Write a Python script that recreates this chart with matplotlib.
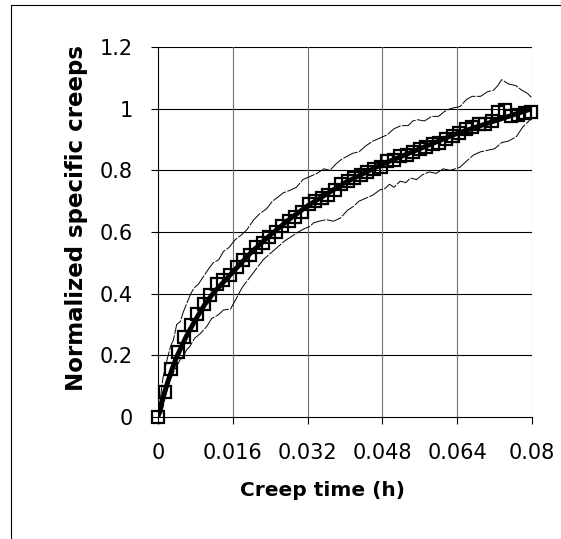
import matplotlib
matplotlib.use("Agg")
import matplotlib.pyplot as plt
from matplotlib.patches import Rectangle

# measured points (normalized specific creep)
creep_time = [0.0, 0.0014, 0.0028, 0.0042, 0.0056, 0.0070, 0.0084, 0.0098, 0.0112, 0.0126,
              0.0140, 0.0154, 0.0168, 0.0182, 0.0196, 0.0210, 0.0224, 0.0238, 0.0252, 0.0266,
              0.0280, 0.0294, 0.0308, 0.0322, 0.0336, 0.0350, 0.0364, 0.0378, 0.0392, 0.0406,
              0.0420, 0.0434, 0.0448, 0.0462, 0.0476, 0.0490, 0.0504, 0.0518, 0.0532, 0.0546,
              0.0560, 0.0574, 0.0588, 0.0602, 0.0616, 0.0630, 0.0644, 0.0658, 0.0672, 0.0686,
              0.0700, 0.0714, 0.0728, 0.0742, 0.0756, 0.0770, 0.0784, 0.0798]
creep = [0.0, 0.08, 0.155, 0.21, 0.26, 0.30, 0.335, 0.365, 0.395, 0.43,
         0.445, 0.46, 0.485, 0.51, 0.525, 0.55, 0.565, 0.585, 0.60, 0.62,
         0.635, 0.65, 0.665, 0.69, 0.70, 0.71, 0.72, 0.735, 0.755, 0.765,
         0.775, 0.785, 0.795, 0.805, 0.81, 0.83, 0.835, 0.845, 0.85, 0.86,
         0.87, 0.875, 0.885, 0.89, 0.90, 0.91, 0.92, 0.935, 0.94, 0.95,
         0.95, 0.96, 0.99, 0.995, 0.975, 0.98, 0.985, 0.99]

# fitted curve
fit_time = [0.0, 0.001, 0.002, 0.003, 0.004, 0.006, 0.008, 0.010, 0.012, 0.016,
            0.020, 0.024, 0.028, 0.032, 0.040, 0.048, 0.056, 0.064, 0.072, 0.080]
fit_creep = [0.0, 0.06, 0.11, 0.155, 0.195, 0.26, 0.315, 0.365, 0.405, 0.47,
             0.535, 0.59, 0.64, 0.685, 0.76, 0.82, 0.87, 0.92, 0.96, 1.0]

# upper / lower bounds
upper_time = [0.0, 0.0006, 0.0011, 0.0020, 0.0027, 0.0033, 0.0040, 0.0048, 0.0054, 0.0062,
              0.0070, 0.0078, 0.0086, 0.0097, 0.0108, 0.0118, 0.0130, 0.0140, 0.0152, 0.0165,
              0.0178, 0.0190, 0.0205, 0.0218, 0.0232, 0.0245, 0.0258, 0.0268, 0.0282, 0.0296,
              0.0310, 0.0325, 0.0340, 0.0355, 0.0368, 0.0380, 0.0392, 0.0404, 0.0416, 0.0430,
              0.0445, 0.0460, 0.0475, 0.0490, 0.0505, 0.0520, 0.0535, 0.0545, 0.0556, 0.0570,
              0.0585, 0.0600, 0.0612, 0.0625, 0.0646, 0.0660, 0.0672, 0.0690, 0.0705, 0.0718,
              0.0727, 0.0735, 0.0750, 0.0765, 0.0778, 0.0790, 0.0800, 0.0810]
upper = [0.0, 0.07, 0.13, 0.19, 0.23, 0.25, 0.30, 0.31, 0.34, 0.37,
         0.40, 0.42, 0.43, 0.455, 0.48, 0.50, 0.51, 0.537, 0.55, 0.575,
         0.59, 0.607, 0.64, 0.66, 0.675, 0.70, 0.715, 0.727, 0.735, 0.745,
         0.77, 0.78, 0.79, 0.805, 0.80, 0.82, 0.835, 0.845, 0.855, 0.86,
         0.88, 0.895, 0.905, 0.915, 0.935, 0.945, 0.945, 0.96, 0.964, 0.96,
         0.975, 0.975, 0.99, 1.0, 1.007, 1.03, 1.04, 1.04, 1.055, 1.06,
         1.075, 1.094, 1.08, 1.075, 1.06, 1.05, 1.035, 1.03]

lower_time = [0.0, 0.0008, 0.0015, 0.0022, 0.0026, 0.0035, 0.0047, 0.0055, 0.0062, 0.0068,
              0.0078, 0.0090, 0.0104, 0.0115, 0.0128, 0.0140, 0.0155, 0.0168, 0.0180, 0.0195,
              0.0210, 0.0225, 0.0240, 0.0255, 0.0270, 0.0285, 0.0300, 0.0312, 0.0325, 0.0333,
              0.0345, 0.0360, 0.0375, 0.0390, 0.0405, 0.0418, 0.0430, 0.0445, 0.0460, 0.0475,
              0.0485, 0.0495, 0.0505, 0.0518, 0.0530, 0.0540, 0.0553, 0.0565, 0.0580, 0.0595,
              0.0610, 0.0625, 0.0646, 0.0660, 0.0675, 0.0690, 0.0705, 0.0720, 0.0735, 0.0750,
              0.0767, 0.0780, 0.0796, 0.0810]
lower = [0.0, 0.013, 0.06, 0.10, 0.12, 0.15, 0.185, 0.20, 0.22, 0.228,
         0.255, 0.27, 0.293, 0.32, 0.33, 0.347, 0.35, 0.386, 0.42, 0.45,
         0.48, 0.51, 0.53, 0.55, 0.57, 0.585, 0.60, 0.61, 0.618, 0.63,
         0.635, 0.64, 0.635, 0.645, 0.67, 0.683, 0.70, 0.71, 0.72, 0.737,
         0.74, 0.755, 0.745, 0.765, 0.76, 0.775, 0.77, 0.785, 0.795, 0.79,
         0.805, 0.80, 0.81, 0.83, 0.85, 0.86, 0.865, 0.87, 0.89, 0.895,
         0.91, 0.94, 0.964, 0.975]

x_ticks = [0, 0.016, 0.032, 0.048, 0.064, 0.08]
x_labels = ["0", "0.016", "0.032", "0.048", "0.064", "0.08"]
y_ticks = [0, 0.2, 0.4, 0.6, 0.8, 1.0, 1.2]
y_labels = ["0", "0.2", "0.4", "0.6", "0.8", "1", "1.2"]

plt.rcParams['font.family'] = ['DejaVu Sans']

fig = plt.figure(figsize=(5.61, 5.39), dpi=100)
ax = fig.add_axes([158 / 561, 1 - 417 / 539, 374 / 561, 370 / 539])

# gridlines
for yv in y_ticks[1:]:
    ax.axhline(yv, color='black', lw=0.8, zorder=1)
for xv in x_ticks[1:]:
    ax.axvline(xv, color='#707070', lw=0.8, zorder=1)

ax.plot(upper_time, upper, color='black', lw=0.7, dashes=(16, 1.5), zorder=2)
ax.plot(lower_time, lower, color='black', lw=0.7, dashes=(16, 1.5), zorder=2)
ax.plot(creep_time, creep, ls='none', marker='s', markersize=9.3, markerfacecolor='none',
        markeredgecolor='black', markeredgewidth=1.6, clip_on=False, zorder=3)
ax.plot(fit_time, fit_creep, color='black', lw=3.5, zorder=4)

ax.set_xlim(0, 0.08)
ax.set_ylim(0, 1.2)
ax.set_xticks(x_ticks)
ax.set_xticklabels(x_labels)
ax.set_yticks(y_ticks)
ax.set_yticklabels(y_labels)
ax.tick_params(direction='out', length=5, width=0.8, labelsize=15)
ax.tick_params(axis='y', pad=13)
ax.tick_params(axis='x', pad=14)

for side in ['top', 'right']:
    ax.spines[side].set_visible(False)
ax.spines['left'].set_linewidth(0.8)
ax.spines['bottom'].set_linewidth(0.8)

fig.text(322 / 561, 1 - 490 / 539, 'Creep time (h)', ha='center', va='center',
         fontsize=14.5, fontweight='bold')
fig.text(77 / 561, 1 - 218 / 539, 'Normalized specific creeps', ha='center', va='center',
         rotation=90, fontsize=16.5, fontweight='bold')

# outer chart frame
fig.patches.append(Rectangle((11 / 561, -0.1), 1.2, 1.1 - 5 / 539, transform=fig.transFigure,
                             fill=False, edgecolor='black', lw=0.8))

fig.savefig('out.png', dpi=100)
